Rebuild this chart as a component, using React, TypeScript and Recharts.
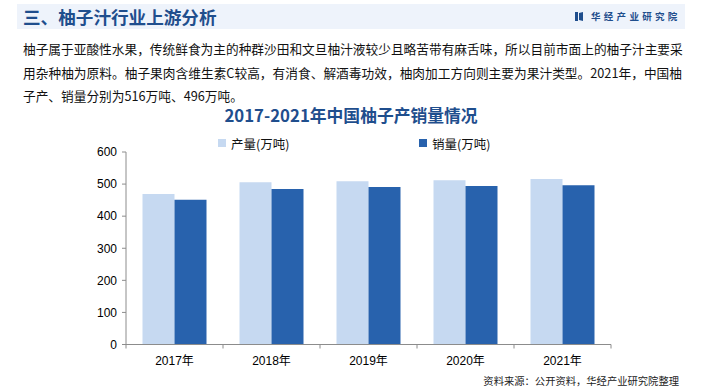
import React from "react";
import { BarChart, Bar, XAxis, YAxis, Legend } from "recharts";

// 2017-2021 中国柚子产销量 (万吨)
const years = ["2017年", "2018年", "2019年", "2020年", "2021年"];
const production = [469, 506, 509, 512, 516];
const sales = [451, 485, 491, 494, 496];
const yTicks = [0, 100, 200, 300, 400, 500, 600];
const seriesNames = ["产量(万吨)", "销量(万吨)"];

const data = years.map((year, i) => ({
	year,
	production: production[i],
	sales: sales[i],
}));

const LIGHT = "#c6d9f1";
const DARK = "#2862ad";
const NAVY = "#1f4e8d";
const AXIS = "#8c8c8c";
const CJK = '"Noto Sans CJK SC", sans-serif';
const LATIN = '"Liberation Sans", "Noto Sans CJK SC", sans-serif';

// x ticks sit on the category boundaries, labels in the middle
function XTick(props: {
	x?: number;
	y?: number;
	index?: number;
	payload?: { value?: string; offset?: number };
}) {
	const x = props.x ?? 0;
	const y = props.y ?? 0;
	const half = props.payload?.offset ?? 0;
	const last = props.index === years.length - 1;
	return (
		<g>
			<line x1={x - half} x2={x - half} y1={y - 4} y2={y} stroke={AXIS} />
			{last && (
				<line x1={x + half} x2={x + half} y1={y - 4} y2={y} stroke={AXIS} />
			)}
			<text
				x={x}
				y={y}
				dy={16}
				textAnchor="middle"
				fill="#000"
				fontSize={12}
				fontFamily={LATIN}
			>
				{props.payload?.value ?? ""}
			</text>
		</g>
	);
}

function LegendContent(props: {
	payload?: { value?: string; color?: string }[];
}) {
	const lefts = [218, 419];
	return (
		<div style={{ position: "relative", width: 704, height: 18 }}>
			{(props.payload ?? []).map((item, i) => (
				<div
					key={item.value}
					style={{
						position: "absolute",
						left: lefts[i],
						top: 0,
						height: 18,
						display: "flex",
						alignItems: "center",
						fontFamily: CJK,
						fontSize: 12.5,
						color: "#111",
						whiteSpace: "nowrap",
					}}
				>
					<span
						style={{
							display: "inline-block",
							width: 8,
							height: 8,
							background: item.color,
							marginRight: 5,
						}}
					/>
					{item.value}
				</div>
			))}
		</div>
	);
}

export default function App() {
	return (
		<div
			style={{
				position: "absolute",
				left: 0,
				top: 0,
				width: 704,
				height: 390,
				background: "#fff",
				overflow: "hidden",
				fontFamily: CJK,
			}}
		>
			{/* header band */}
			<div
				style={{
					position: "absolute",
					left: 17,
					top: 4,
					width: 668,
					height: 25,
					background: "#eef3fb",
				}}
			/>
			<div
				style={{
					position: "absolute",
					left: 23,
					top: 4,
					height: 25,
					lineHeight: "25px",
					fontSize: 17.6,
					fontWeight: 700,
					color: NAVY,
					whiteSpace: "nowrap",
				}}
			>
				三、柚子汁行业上游分析
			</div>
			<svg
				style={{ position: "absolute", left: 575, top: 12 }}
				width={9}
				height={9}
			>
				<rect x={0} y={0} width={3} height={9} fill={NAVY} />
				<polygon points="4,1 8,0 8,9 4,8" fill={NAVY} />
			</svg>
			<div
				style={{
					position: "absolute",
					left: 591,
					top: 9,
					height: 14,
					lineHeight: "14px",
					fontSize: 9.5,
					fontWeight: 700,
					letterSpacing: 3.3,
					color: NAVY,
					whiteSpace: "nowrap",
				}}
			>
				华经产业研究院
			</div>

			{/* paragraph */}
			<div
				style={{
					position: "absolute",
					left: 23,
					top: 37,
					width: 659,
					fontSize: 12.7,
					lineHeight: "23.5px",
					color: "#111",
				}}
			>
				<div style={{ textAlign: "justify", textAlignLast: "justify", whiteSpace: "nowrap" }}>
					柚子属于亚酸性水果，传统鲜食为主的种群沙田和文旦柚汁液较少且略苦带有麻舌味，所以目前市面上的柚子汁主要采
				</div>
				<div style={{ textAlign: "justify", textAlignLast: "justify", whiteSpace: "nowrap" }}>
					用杂种柚为原料。柚子果肉含维生素C较高，有消食、解酒毒功效，柚肉加工方向则主要为果汁类型。2021年，中国柚
				</div>
				<div style={{ whiteSpace: "nowrap" }}>子产、销量分别为516万吨、496万吨。</div>
			</div>

			{/* chart title */}
			<div
				style={{
					position: "absolute",
					left: 0,
					top: 103,
					width: 702,
					textAlign: "center",
					lineHeight: "24px",
					fontSize: 16.8,
					fontWeight: 700,
					color: NAVY,
				}}
			>
				2017-2021年中国柚子产销量情况
			</div>

			<div style={{ position: "absolute", left: 0, top: 0 }}>
				<BarChart
					width={704}
					height={390}
					data={data}
					margin={{ top: 152, right: 93, bottom: 15.5, left: 86 }}
					barCategoryGap={16.5}
					barGap={0}
				>
					<XAxis
						dataKey="year"
						height={30}
						stroke={AXIS}
						tickLine={false}
						tickSize={4}
						tickMargin={0}
						tick={<XTick />}
						interval={0}
					/>
					<YAxis
						width={40}
						domain={[0, 600]}
						ticks={yTicks}
						interval={0}
						stroke={AXIS}
						tickSize={4}
						tickMargin={5}
						tick={{ fill: "#000", fontSize: 12, fontFamily: LATIN }}
					/>
					<Legend
						layout="horizontal"
						align="center"
						verticalAlign="middle"
						content={<LegendContent />}
						wrapperStyle={{ position: "absolute", left: 0, top: 134, width: 704, height: 18 }}
					/>
					<Bar
						dataKey="production"
						name={seriesNames[0]}
						fill={LIGHT}
						isAnimationActive={false}
					/>
					<Bar
						dataKey="sales"
						name={seriesNames[1]}
						fill={DARK}
						isAnimationActive={false}
					/>
				</BarChart>
			</div>

			{/* source */}
			<div
				style={{
					position: "absolute",
					right: 25,
					top: 374,
					lineHeight: "14px",
					fontSize: 10.3,
					color: "#222",
					whiteSpace: "nowrap",
				}}
			>
				资料来源：公开资料，华经产业研究院整理
			</div>
		</div>
	);
}
